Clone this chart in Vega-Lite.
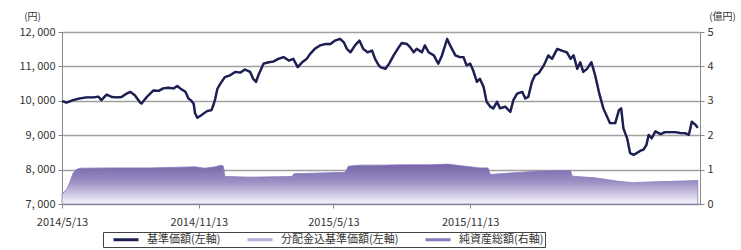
{
  "$schema": "https://vega.github.io/schema/vega-lite/v6.json",
  "width": 638,
  "height": 172,
  "autosize": {"type": "none"},
  "padding": {"left": 62, "top": 32, "right": 41, "bottom": 46},
  "background": "white",
  "datasets": {
    "nav": [
      {"d":"2014-05-13","v":9990},{"d":"2014-05-19","v":9950},{"d":"2014-05-28","v":10020},{"d":"2014-06-06","v":10070},
      {"d":"2014-06-15","v":10100},{"d":"2014-06-24","v":10100},{"d":"2014-07-01","v":10120},{"d":"2014-07-05","v":10020},
      {"d":"2014-07-12","v":10180},{"d":"2014-07-19","v":10110},{"d":"2014-07-26","v":10100},{"d":"2014-08-01","v":10110},
      {"d":"2014-08-08","v":10210},{"d":"2014-08-13","v":10260},{"d":"2014-08-19","v":10160},{"d":"2014-08-26","v":9950},
      {"d":"2014-08-28","v":9920},{"d":"2014-09-04","v":10110},{"d":"2014-09-13","v":10300},{"d":"2014-09-20","v":10290},
      {"d":"2014-09-26","v":10360},{"d":"2014-10-03","v":10380},{"d":"2014-10-10","v":10360},{"d":"2014-10-15","v":10430},
      {"d":"2014-10-19","v":10360},{"d":"2014-10-26","v":10260},{"d":"2014-10-30","v":10070},{"d":"2014-11-02","v":10020},
      {"d":"2014-11-06","v":9920},{"d":"2014-11-08","v":9630},{"d":"2014-11-11","v":9510},{"d":"2014-11-17","v":9590},
      {"d":"2014-11-24","v":9700},{"d":"2014-11-30","v":9730},{"d":"2014-12-03","v":9900},{"d":"2014-12-05","v":10050},
      {"d":"2014-12-08","v":10350},{"d":"2014-12-12","v":10500},{"d":"2014-12-18","v":10690},{"d":"2014-12-25","v":10740},
      {"d":"2015-01-01","v":10840},{"d":"2015-01-08","v":10820},{"d":"2015-01-14","v":10910},{"d":"2015-01-21","v":10840},
      {"d":"2015-01-25","v":10640},{"d":"2015-01-29","v":10550},{"d":"2015-02-01","v":10740},{"d":"2015-02-08","v":11080},
      {"d":"2015-02-15","v":11120},{"d":"2015-02-21","v":11140},{"d":"2015-02-28","v":11220},{"d":"2015-03-07","v":11270},
      {"d":"2015-03-14","v":11170},{"d":"2015-03-20","v":11220},{"d":"2015-03-26","v":10980},{"d":"2015-04-01","v":11120},
      {"d":"2015-04-07","v":11220},{"d":"2015-04-12","v":11370},{"d":"2015-04-18","v":11510},{"d":"2015-04-25","v":11610},
      {"d":"2015-05-02","v":11650},{"d":"2015-05-09","v":11650},{"d":"2015-05-15","v":11750},{"d":"2015-05-22","v":11800},
      {"d":"2015-05-27","v":11700},{"d":"2015-05-31","v":11510},{"d":"2015-06-05","v":11410},{"d":"2015-06-11","v":11610},
      {"d":"2015-06-17","v":11750},{"d":"2015-06-22","v":11510},{"d":"2015-06-28","v":11410},{"d":"2015-07-04","v":11460},
      {"d":"2015-07-08","v":11220},{"d":"2015-07-13","v":11030},{"d":"2015-07-15","v":10980},{"d":"2015-07-22","v":10930},
      {"d":"2015-07-27","v":11080},{"d":"2015-08-02","v":11320},{"d":"2015-08-09","v":11560},{"d":"2015-08-13","v":11680},
      {"d":"2015-08-20","v":11650},{"d":"2015-08-24","v":11560},{"d":"2015-08-29","v":11410},{"d":"2015-09-02","v":11510},
      {"d":"2015-09-09","v":11410},{"d":"2015-09-13","v":11610},{"d":"2015-09-18","v":11410},{"d":"2015-09-25","v":11320},
      {"d":"2015-10-01","v":11080},{"d":"2015-10-06","v":11320},{"d":"2015-10-13","v":11800},{"d":"2015-10-17","v":11610},
      {"d":"2015-10-24","v":11320},{"d":"2015-10-30","v":11270},{"d":"2015-11-04","v":11270},{"d":"2015-11-08","v":11030},
      {"d":"2015-11-13","v":11080},{"d":"2015-11-17","v":10880},{"d":"2015-11-22","v":10550},{"d":"2015-11-26","v":10640},
      {"d":"2015-12-01","v":10400},{"d":"2015-12-05","v":9970},{"d":"2015-12-10","v":9830},{"d":"2015-12-14","v":9780},
      {"d":"2015-12-19","v":9970},{"d":"2015-12-23","v":9780},{"d":"2015-12-30","v":9830},{"d":"2016-01-06","v":9680},
      {"d":"2016-01-10","v":10020},{"d":"2016-01-15","v":10210},{"d":"2016-01-22","v":10260},{"d":"2016-01-26","v":10070},
      {"d":"2016-01-30","v":10110},{"d":"2016-02-04","v":10550},{"d":"2016-02-08","v":10740},{"d":"2016-02-13","v":10800},
      {"d":"2016-02-20","v":11030},{"d":"2016-02-26","v":11320},{"d":"2016-03-02","v":11220},{"d":"2016-03-09","v":11510},
      {"d":"2016-03-15","v":11460},{"d":"2016-03-22","v":11410},{"d":"2016-03-27","v":11220},{"d":"2016-03-31","v":11320},
      {"d":"2016-04-05","v":10930},{"d":"2016-04-09","v":11120},{"d":"2016-04-13","v":10840},{"d":"2016-04-18","v":10930},
      {"d":"2016-04-24","v":11120},{"d":"2016-04-29","v":10740},{"d":"2016-05-04","v":10260},{"d":"2016-05-07","v":10020},
      {"d":"2016-05-10","v":9780},{"d":"2016-05-15","v":9540},{"d":"2016-05-19","v":9350},{"d":"2016-05-26","v":9350},
      {"d":"2016-05-31","v":9730},{"d":"2016-06-03","v":9780},{"d":"2016-06-06","v":9200},{"d":"2016-06-11","v":8910},
      {"d":"2016-06-15","v":8480},{"d":"2016-06-20","v":8430},{"d":"2016-06-24","v":8480},{"d":"2016-06-29","v":8550},
      {"d":"2016-07-03","v":8580},{"d":"2016-07-07","v":8720},{"d":"2016-07-10","v":9010},{"d":"2016-07-14","v":8910},
      {"d":"2016-07-19","v":9110},{"d":"2016-07-26","v":9030},{"d":"2016-08-01","v":9090},{"d":"2016-08-08","v":9090},
      {"d":"2016-08-15","v":9090},{"d":"2016-08-22","v":9060},{"d":"2016-08-28","v":9060},{"d":"2016-09-02","v":9010},
      {"d":"2016-09-06","v":9390},{"d":"2016-09-11","v":9300},{"d":"2016-09-14","v":9220}
    ],
    "aum": [
      {"d":"2014-05-13","a":0.30},{"d":"2014-05-16","a":0.35},{"d":"2014-05-20","a":0.45},{"d":"2014-05-24","a":0.66},
      {"d":"2014-05-28","a":0.90},{"d":"2014-06-01","a":1.00},{"d":"2014-06-06","a":1.04},{"d":"2014-07-17","a":1.05},
      {"d":"2014-09-08","a":1.05},{"d":"2014-10-19","a":1.07},{"d":"2014-11-08","a":1.08},{"d":"2014-11-21","a":1.04},
      {"d":"2014-12-05","a":1.08},{"d":"2014-12-13","a":1.13},{"d":"2014-12-16","a":1.10},{"d":"2014-12-18","a":0.80},
      {"d":"2015-01-21","a":0.78},{"d":"2015-03-18","a":0.80},{"d":"2015-03-21","a":0.88},{"d":"2015-04-25","a":0.90},
      {"d":"2015-05-29","a":0.92},{"d":"2015-06-02","a":1.10},{"d":"2015-06-18","a":1.13},{"d":"2015-07-15","a":1.13},
      {"d":"2015-08-11","a":1.14},{"d":"2015-09-20","a":1.14},{"d":"2015-10-13","a":1.16},{"d":"2015-11-06","a":1.10},
      {"d":"2015-11-26","a":1.05},{"d":"2015-12-07","a":1.05},{"d":"2015-12-10","a":0.86},{"d":"2016-01-06","a":0.90},
      {"d":"2016-02-15","a":0.96},{"d":"2016-03-27","a":0.97},{"d":"2016-03-29","a":0.81},{"d":"2016-04-29","a":0.76},
      {"d":"2016-05-30","a":0.66},{"d":"2016-06-18","a":0.62},{"d":"2016-07-12","a":0.64},{"d":"2016-09-14","a":0.68}
    ]
  },
  "layer": [
    {
      "data": {"name": "aum"},
      "mark": {
        "type": "area",
        "fill": {"gradient": "linear", "x1": 0, "y1": 0, "x2": 0, "y2": 1,
          "stops": [{"offset": 0, "color": "#7464a8"}, {"offset": 0.45, "color": "#9d90c4"}, {"offset": 1, "color": "#f7f5fb"}]},
        "strokeWidth": 0.8,
        "opacity": 1
      },
      "encoding": {
        "x": {
          "field": "d", "type": "temporal",
          "scale": {"type": "utc", "domain": [{"year": 2014, "month": 5, "date": 13, "utc": true}, {"year": 2016, "month": 9, "date": 17, "utc": true}]},
          "axis": {
            "title": null, "grid": false,
            "labelExpr": "utcFormat(datum.value, '%Y/%-m/%-d')",
            "values": [{"year": 2014, "month": 5, "date": 13, "utc": true}, {"year": 2014, "month": 11, "date": 13, "utc": true}, {"year": 2015, "month": 5, "date": 13, "utc": true}, {"year": 2015, "month": 11, "date": 13, "utc": true}],
            "tickSize": 4, "labelPadding": 8, "labelFontSize": 11, "labelFlush": false, "labelOverlap": false, "labelBound": false
          }
        },
        "y": {
          "field": "a", "type": "quantitative",
          "scale": {"domain": [0, 5], "nice": false, "zero": true},
          "axis": {
            "orient": "right", "title": "(億円)", "grid": false, "values": [0, 1, 2, 3, 4, 5], "format": "d",
            "tickSize": 4, "labelPadding": 3, "labelOverlap": false,
            "titleAngle": 0, "titleAlign": "center", "titleBaseline": "middle", "titleX": 22, "titleY": -16
          }
        },
        "stroke": {
          "datum": "純資産総額(右軸)",
          "scale": {"domain": ["基準価額(左軸)", "分配金込基準価額(左軸)", "純資産総額(右軸)"], "range": ["#1c2050", "#b4b0dc", "#8a78bc"]},
          "legend": {
            "orient": "none", "legendX": 41, "legendY": 200, "direction": "horizontal", "columns": 3,
            "title": null, "strokeColor": "#444", "padding": 1,
            "symbolType": "M0.6,0H5.6", "symbolStrokeWidth": 3, "symbolSize": 100, "symbolOpacity": 1,
            "labelFont": "Noto Sans CJK JP", "labelFontSize": 11, "labelColor": "#333",
            "columnPadding": 17, "labelOffset": 30, "labelLimit": 0
          }
        }
      }
    },
    {
      "data": {"name": "nav"},
      "encoding": {
        "x": {"field": "d", "type": "temporal"},
        "y": {
          "field": "v", "type": "quantitative",
          "scale": {"domain": [7000, 12000], "nice": false, "zero": false},
          "axis": {
            "orient": "left", "title": "(円)", "grid": true,
            "values": [7000, 8000, 9000, 10000, 11000, 12000],
            "labelExpr": "replace(format(datum.value, ','), ',', ', ')",
            "tickSize": 4, "labelPadding": 3, "labelOverlap": false, "labelBound": false,
            "titleAngle": 0, "titleAlign": "center", "titleBaseline": "middle", "titleX": -30, "titleY": -16
          }
        }
      },
      "layer": [
        {
          "mark": {"type": "line", "strokeWidth": 2.2, "strokeJoin": "round"},
          "encoding": {"stroke": {"datum": "分配金込基準価額(左軸)"}}
        },
        {
          "mark": {"type": "line", "strokeWidth": 2.4, "strokeJoin": "round"},
          "encoding": {"stroke": {"datum": "基準価額(左軸)"}}
        }
      ]
    }
  ],
  "resolve": {"scale": {"y": "independent"}},
  "config": {
    "view": {"stroke": "#999999", "strokeWidth": 1},
    "axis": {
      "labelFont": "Noto Sans CJK JP", "labelFontSize": 11, "labelColor": "#333333", "labelOverlap": false,
      "titleFont": "Noto Sans CJK JP", "titleFontSize": 10, "titleFontWeight": "normal", "titleColor": "#333333",
      "domainColor": "#888888", "tickColor": "#888888", "gridColor": "#a0a0a0", "gridWidth": 1.4
    }
  }
}
